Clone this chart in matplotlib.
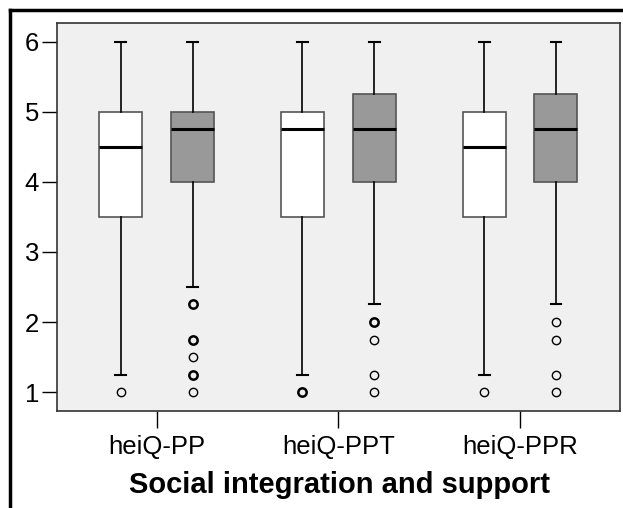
import matplotlib.pyplot as plt
from matplotlib.lines import Line2D

plt.rcParams['font.family'] = ['Liberation Sans', 'DejaVu Sans']

groups = ['heiQ-PP', 'heiQ-PPT', 'heiQ-PPR']

# white boxes (first series)
white_whislo = [1.25, 1.25, 1.25]
white_q1 = [3.5, 3.5, 3.5]
white_med = [4.5, 4.75, 4.5]
white_q3 = [5.0, 5.0, 5.0]
white_whishi = [6.0, 6.0, 6.0]
white_fliers = [[1.0], [1.0], [1.0]]
white_counts = [[1], [2], [1]]

# gray boxes (second series)
gray_whislo = [2.5, 2.25, 2.25]
gray_q1 = [4.0, 4.0, 4.0]
gray_med = [4.75, 4.75, 4.75]
gray_q3 = [5.0, 5.25, 5.25]
gray_whishi = [6.0, 6.0, 6.0]
gray_fliers = [[2.25, 1.75, 1.5, 1.25, 1.0], [2.0, 1.75, 1.25, 1.0], [2.0, 1.75, 1.25, 1.0]]
gray_counts = [[2, 2, 1, 2, 1], [2, 1, 1, 1], [1, 1, 1, 1]]

fig = plt.figure(figsize=(6.23, 5.08), dpi=100)
ax = fig.add_axes([0.0915, 0.191, 0.9035, 0.764])
ax.set_facecolor('#f0f0f0')

offset = 0.198
width = 0.237


def draw(series, pos_shift, face):
    whislo, q1, med, q3, whishi, fliers, counts = series
    stats = []
    for i in range(len(groups)):
        stats.append(dict(whislo=whislo[i], q1=q1[i], med=med[i], q3=q3[i],
                          whishi=whishi[i], fliers=[]))
    pos = [i + 1 + pos_shift for i in range(len(groups))]
    ax.bxp(stats, positions=pos, widths=width, showfliers=False,
           patch_artist=True, manage_ticks=False,
           boxprops=dict(facecolor=face, edgecolor='#555555', linewidth=1.2),
           medianprops=dict(color='black', linewidth=2.2),
           whiskerprops=dict(color='black', linewidth=1.2),
           capprops=dict(color='black', linewidth=1.5),
           capwidths=0.06)
    for i in range(len(groups)):
        for v, c in zip(fliers[i], counts[i]):
            ax.plot(pos[i], v, 'o', markersize=6, markerfacecolor='none',
                    markeredgecolor='black', markeredgewidth=1.0 if c == 1 else 1.8)


draw((white_whislo, white_q1, white_med, white_q3, white_whishi, white_fliers, white_counts),
     -offset, 'white')
draw((gray_whislo, gray_q1, gray_med, gray_q3, gray_whishi, gray_fliers, gray_counts),
     offset, '#999999')

ax.set_xlim(0.45, 3.55)
ax.set_ylim(0.73, 6.27)
ax.set_xticks([1, 2, 3])
ax.set_xticklabels(groups, fontsize=18.5)
ax.set_yticks([1, 2, 3, 4, 5, 6])
ax.tick_params(axis='y', labelsize=18.5, length=11, width=1, pad=2)
ax.tick_params(axis='x', length=12, width=1, pad=5)
for s in ax.spines.values():
    s.set_color('#333333')
    s.set_linewidth(1.2)

fig.text(0.545, 0.03, 'Social integration and support', ha='center', va='baseline',
         fontsize=21, fontweight='bold')

# outer frame (left and top only)
fig.add_artist(Line2D([0.016, 0.016], [0, 0.981], color='black', linewidth=2.5,
                      transform=fig.transFigure))
fig.add_artist(Line2D([0.016, 1.0], [0.981, 0.981], color='black', linewidth=2.5,
                      transform=fig.transFigure))

fig.savefig('out.png', dpi=100)
